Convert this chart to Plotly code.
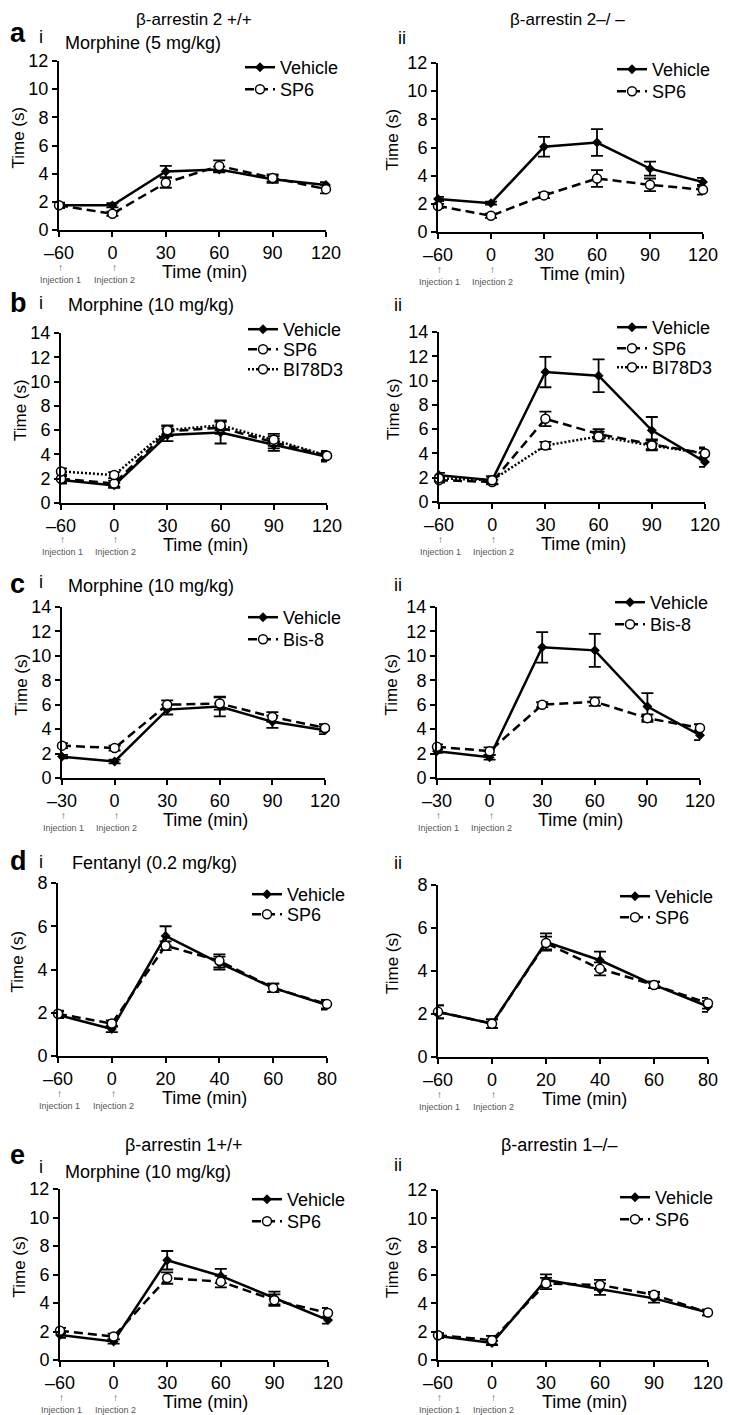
import plotly.graph_objects as go

W, H = 750, 1415
OFF = 8  # page body margin in the browser
FW, FH = W - OFF, H - OFF
FONT = "Liberation Sans, Arial, sans-serif"

# ---------------- data ----------------
X_MORPH = ["\u201360", "0", "30", "60", "90", "120"]
X_BIS = ["\u201330", "0", "30", "60", "90", "120"]
X_FENT = ["\u201360", "0", "20", "40", "60", "80"]

# a-i  beta-arrestin 2 +/+, morphine 5 mg/kg
A1_VEH = [1.75, 1.75, 4.15, 4.3, 3.6, 3.2]
A1_VEH_ERR = [0.15, 0.15, 0.4, 0.2, 0.25, 0.2]
A1_SP6 = [1.75, 1.15, 3.35, 4.55, 3.7, 2.9]
A1_SP6_ERR = [0.2, 0.15, 0.35, 0.4, 0.25, 0.3]
# a-ii beta-arrestin 2 -/-
A2_VEH = [2.35, 2.05, 6.05, 6.35, 4.5, 3.55]
A2_VEH_ERR = [0.15, 0.1, 0.7, 0.95, 0.5, 0.3]
A2_SP6 = [1.85, 1.15, 2.6, 3.8, 3.35, 3.0]
A2_SP6_ERR = [0.15, 0.15, 0.2, 0.6, 0.45, 0.35]
# b-i morphine 10 mg/kg
B1_VEH = [1.9, 1.45, 5.6, 5.8, 4.8, 3.8]
B1_VEH_ERR = [0.3, 0.2, 0.5, 0.9, 0.5, 0.4]
B1_SP6 = [2.0, 1.6, 5.9, 6.2, 5.0, 3.9]
B1_SP6_ERR = [0.3, 0.25, 0.4, 0.5, 0.5, 0.35]
B1_BI = [2.6, 2.3, 6.0, 6.4, 5.2, 3.9]
B1_BI_ERR = [0.25, 0.25, 0.4, 0.4, 0.5, 0.4]
# b-ii
B2_VEH = [2.2, 1.8, 10.7, 10.4, 5.9, 3.3]
B2_VEH_ERR = [0.2, 0.3, 1.25, 1.35, 1.1, 0.4]
B2_SP6 = [1.8, 1.65, 6.85, 5.6, 4.75, 4.0]
B2_SP6_ERR = [0.2, 0.2, 0.6, 0.4, 0.4, 0.5]
B2_BI = [1.95, 1.8, 4.65, 5.4, 4.65, 4.0]
B2_BI_ERR = [0.2, 0.3, 0.3, 0.4, 0.4, 0.4]
# c-i
C1_VEH = [1.75, 1.35, 5.6, 5.85, 4.6, 3.9]
C1_VEH_ERR = [0.15, 0.15, 0.4, 0.8, 0.5, 0.3]
C1_BIS = [2.65, 2.45, 6.0, 6.1, 5.0, 4.1]
C1_BIS_ERR = [0.2, 0.2, 0.35, 0.5, 0.4, 0.3]
# c-ii
C2_VEH = [2.2, 1.7, 10.7, 10.45, 5.85, 3.5]
C2_VEH_ERR = [0.15, 0.2, 1.25, 1.35, 1.1, 0.4]
C2_BIS = [2.55, 2.2, 6.0, 6.25, 4.9, 4.1]
C2_BIS_ERR = [0.2, 0.3, 0.2, 0.35, 0.3, 0.3]
# d-i fentanyl
D1_VEH = [1.9, 1.25, 5.55, 4.3, 3.15, 2.35]
D1_VEH_ERR = [0.15, 0.15, 0.45, 0.3, 0.2, 0.2]
D1_SP6 = [1.95, 1.5, 5.1, 4.4, 3.15, 2.4]
D1_SP6_ERR = [0.15, 0.15, 0.2, 0.3, 0.2, 0.2]
# d-ii
D2_VEH = [2.1, 1.55, 5.35, 4.5, 3.35, 2.35]
D2_VEH_ERR = [0.3, 0.2, 0.4, 0.4, 0.15, 0.25]
D2_SP6 = [2.1, 1.55, 5.3, 4.1, 3.35, 2.5]
D2_SP6_ERR = [0.3, 0.2, 0.3, 0.3, 0.15, 0.25]
# e-i beta-arrestin 1 +/+
E1_VEH = [1.75, 1.3, 7.0, 5.9, 4.35, 2.8]
E1_VEH_ERR = [0.2, 0.15, 0.65, 0.5, 0.45, 0.25]
E1_SP6 = [2.05, 1.65, 5.75, 5.5, 4.2, 3.3]
E1_SP6_ERR = [0.2, 0.2, 0.4, 0.4, 0.4, 0.35]
# e-ii beta-arrestin 1 -/-
E2_VEH = [1.7, 1.2, 5.65, 5.0, 4.35, 3.35]
E2_VEH_ERR = [0.15, 0.15, 0.4, 0.4, 0.3, 0.2]
E2_SP6 = [1.75, 1.4, 5.4, 5.3, 4.6, 3.35]
E2_SP6_ERR = [0.15, 0.3, 0.4, 0.35, 0.2, 0.2]

# ---------------- panel boxes (page px: x0, x1, ytop, ybottom), legend x + item rows ----------------
panels = [
    dict(box=(59, 326, 61, 230), ymax=12, xt=X_MORPH, legx=240, legy=[68, 90],
         series=[("Vehicle", A1_VEH, A1_VEH_ERR), ("SP6", A1_SP6, A1_SP6_ERR)]),
    dict(box=(438, 703, 63, 232), ymax=12, xt=X_MORPH, legx=612, legy=[70, 92],
         series=[("Vehicle", A2_VEH, A2_VEH_ERR), ("SP6", A2_SP6, A2_SP6_ERR)]),
    dict(box=(61, 327, 333, 503), ymax=14, xt=X_MORPH, legx=243, legy=[330, 350, 370],
         series=[("Vehicle", B1_VEH, B1_VEH_ERR), ("SP6", B1_SP6, B1_SP6_ERR),
                 ("BI78D3", B1_BI, B1_BI_ERR)]),
    dict(box=(439, 705, 332, 502), ymax=14, xt=X_MORPH, legx=612, legy=[328, 349, 368],
         series=[("Vehicle", B2_VEH, B2_VEH_ERR), ("SP6", B2_SP6, B2_SP6_ERR),
                 ("BI78D3", B2_BI, B2_BI_ERR)]),
    dict(box=(62, 325, 607, 778), ymax=14, xt=X_BIS, legx=243, legy=[618, 640],
         series=[("Vehicle", C1_VEH, C1_VEH_ERR), ("Bis-8", C1_BIS, C1_BIS_ERR)]),
    dict(box=(437, 700, 607, 778), ymax=14, xt=X_BIS, legx=610, legy=[603, 625],
         series=[("Vehicle", C2_VEH, C2_VEH_ERR), ("Bis-8", C2_BIS, C2_BIS_ERR)]),
    dict(box=(58, 327, 883, 1056), ymax=8, xt=X_FENT, legx=247, legy=[895, 915],
         series=[("Vehicle", D1_VEH, D1_VEH_ERR), ("SP6", D1_SP6, D1_SP6_ERR)]),
    dict(box=(438, 708, 885, 1057), ymax=8, xt=X_FENT, legx=615, legy=[897, 918],
         series=[("Vehicle", D2_VEH, D2_VEH_ERR), ("SP6", D2_SP6, D2_SP6_ERR)]),
    dict(box=(60, 328, 1189, 1360), ymax=12, xt=X_MORPH, legx=247, legy=[1200, 1222],
         series=[("Vehicle", E1_VEH, E1_VEH_ERR), ("SP6", E1_SP6, E1_SP6_ERR)]),
    dict(box=(438, 708, 1190, 1360), ymax=12, xt=X_MORPH, legx=615, legy=[1198, 1220],
         series=[("Vehicle", E2_VEH, E2_VEH_ERR), ("SP6", E2_SP6, E2_SP6_ERR)]),
]

STYLE = {
    "Vehicle": dict(dash="solid", symbol="diamond", fill="black", size=6),
    "SP6": dict(dash="9px,5px", symbol="circle", fill="white", size=9),
    "Bis-8": dict(dash="9px,5px", symbol="circle", fill="white", size=9),
    "BI78D3": dict(dash="2px,2px", symbol="circle", fill="white", size=9),
}

def px_x(p):
    return (p - OFF) / FW

def px_y(p):
    return 1 - (p - OFF) / FH

fig = go.Figure()
layout = dict(
    width=FW, height=FH, margin=dict(l=0, r=0, t=0, b=0, autoexpand=False),
    paper_bgcolor="white", plot_bgcolor="white",
    font=dict(family=FONT, size=18, color="black"),
    showlegend=True,
)
annotations = []
leg_count = 0

for i, p in enumerate(panels):
    n = i + 1
    sfx = "" if n == 1 else str(n)
    x0, x1, yt, yb = p["box"]
    layout["xaxis" + sfx] = dict(
        domain=[px_x(x0), px_x(x1)], range=[0, 5], anchor="y" + sfx,
        tickmode="array", tickvals=list(range(6)), ticktext=p["xt"],
        showline=True, linecolor="black", linewidth=2, ticks="outside",
        ticklen=5, tickwidth=2, tickcolor="black", showgrid=False,
        zeroline=False, tickfont=dict(size=18), automargin=False)
    layout["yaxis" + sfx] = dict(
        domain=[px_y(yb), px_y(yt)], range=[0, p["ymax"]], anchor="x" + sfx,
        dtick=2, showline=True, linecolor="black", linewidth=2,
        ticks="outside", ticklen=5, tickwidth=2, tickcolor="black",
        showgrid=False, zeroline=False, tickfont=dict(size=18), automargin=False)
    for (name, vals, errs), ly in zip(p["series"], p["legy"]):
        leg_count += 1
        legname = "legend" if leg_count == 1 else "legend%d" % leg_count
        layout[legname] = dict(x=px_x(p["legx"]), y=px_y(ly - 19), xanchor="left",
                               yanchor="top", bgcolor="rgba(0,0,0,0)", borderwidth=0,
                               font=dict(size=18, family=FONT), itemwidth=30)
        st = STYLE[name]
        fig.add_trace(go.Scatter(
            x=list(range(6)), y=vals, name=name, mode="lines+markers",
            xaxis="x" + sfx, yaxis="y" + sfx, legend=legname,
            line=dict(color="black", width=2.5, dash=st["dash"]),
            marker=dict(symbol=st["symbol"], size=st["size"], color=st["fill"],
                        line=dict(color="black", width=1.5)),
            error_y=dict(type="data", array=errs, visible=True, color="black",
                         thickness=1.8, width=6),
            cliponaxis=False,
        ))
    # axis titles
    left_col = x0 < 200
    annotations.append(dict(text="Time (s)", textangle=-90, xref="paper", yref="paper",
                            x=px_x(x0 - (41 if left_col else 46)),
                            y=px_y((yt + yb) / 2 - 8),
                            xanchor="center", yanchor="middle",
                            showarrow=False, font=dict(size=17)))
    annotations.append(dict(text="Time (min)", xref="x" + sfx, yref="paper",
                            x=2.72, y=px_y(yb + 42), xanchor="center", yanchor="middle",
                            showarrow=False, font=dict(size=18)))
    for k, lab in enumerate(["Injection 1", "Injection 2"]):
        annotations.append(dict(
            text="<span style='font-size:10px'>\u2191</span><br>" + lab,
            xref="x" + sfx, yref="paper", x=k + 0.03, y=px_y(yb + 43),
            xanchor="center", yanchor="middle", align="center",
            showarrow=False, font=dict(size=9, color="#555")))

def txt(s, x, y, size=18, bold=False, anchor="left"):
    annotations.append(dict(text=("<b>%s</b>" % s) if bold else s, xref="paper",
                            yref="paper", x=px_x(x), y=px_y(y), xanchor=anchor,
                            yanchor="middle", showarrow=False,
                            font=dict(size=size)))

txt("\u03b2-arrestin 2 +/+", 194, 20, 17, anchor="center")
txt("\u03b2-arrestin 2\u2013/ \u2013", 567, 20, 17, anchor="center")
txt("a", 8, 33, 27, True)
txt("i", 37, 37, 18)
txt("Morphine (5 mg/kg)", 63, 43, 18)
txt("ii", 396, 38, 18)

txt("b", 8, 303, 27, True)
txt("i", 37, 303, 18)
txt("Morphine (10 mg/kg)", 66, 305, 18)
txt("ii", 392, 305, 18)

txt("c", 8, 584, 27, True)
txt("i", 37, 582, 18)
txt("Morphine (10 mg/kg)", 66, 586, 18)
txt("ii", 392, 585, 18)

txt("d", 8, 861, 27, True)
txt("i", 37, 862, 18)
txt("Fentanyl (0.2 mg/kg)", 70, 863, 18)
txt("ii", 392, 863, 18)

txt("e", 8, 1155, 27, True)
txt("\u03b2-arrestin 1+/+", 183, 1145, 18, anchor="center")
txt("i", 37, 1167, 18)
txt("Morphine (10 mg/kg)", 63, 1172, 18)
txt("\u03b2-arrestin 1\u2013/\u2013", 559, 1145, 18, anchor="center")
txt("ii", 392, 1165, 18)

layout["annotations"] = annotations
fig.update_layout(**layout)
fig.write_html("out.html")
